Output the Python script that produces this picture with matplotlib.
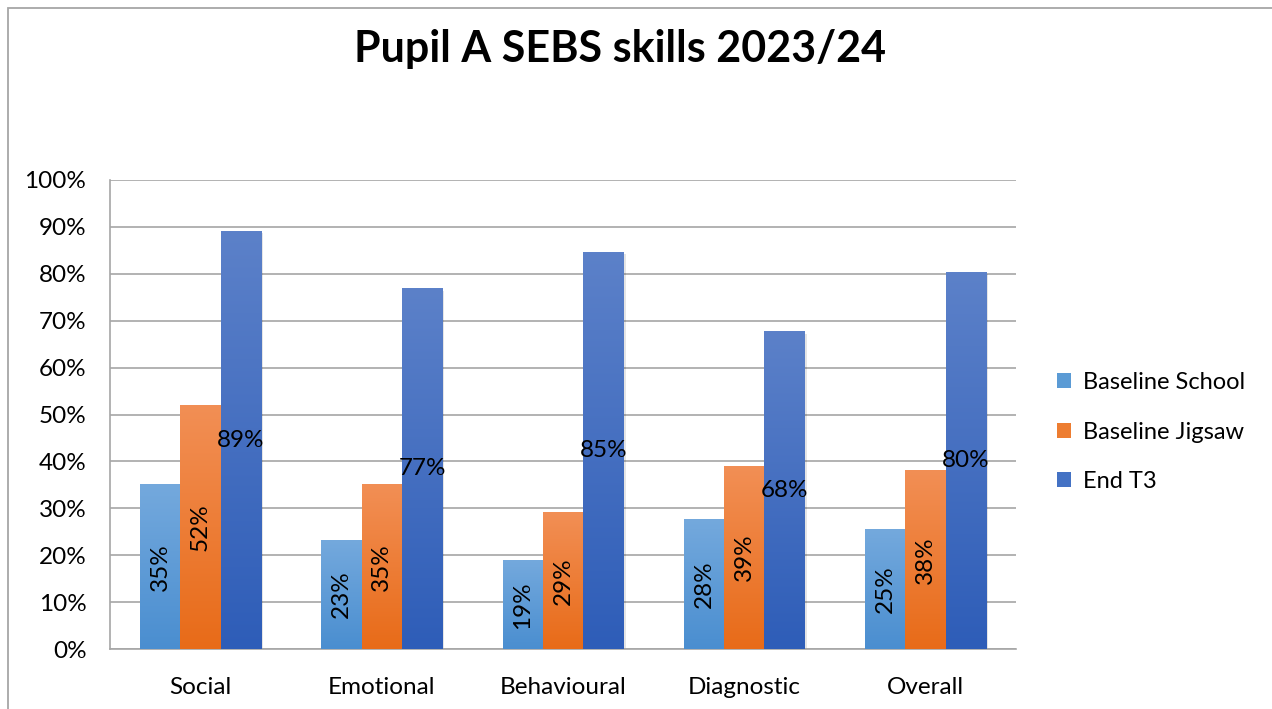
import numpy as np
import matplotlib
matplotlib.use("Agg")
import matplotlib.pyplot as plt
from matplotlib.colors import LinearSegmentedColormap
from matplotlib.patches import Rectangle

plt.rcParams['font.family'] = ['Lato', 'DejaVu Sans']

# data
categories = ['Social', 'Emotional', 'Behavioural', 'Diagnostic', 'Overall']
series_names = ['Baseline School', 'Baseline Jigsaw', 'End T3']
baseline_school = [0.35, 0.232, 0.188, 0.277, 0.254]
baseline_jigsaw = [0.52, 0.35, 0.29, 0.39, 0.38]
end_t3 = [0.891, 0.768, 0.846, 0.676, 0.803]
yticks = np.arange(0, 1.01, 0.1)

# (top colour, bottom colour) for the gradient fill of each series
grad_colors = [('#74a9dd', '#4a8ed0'),
               ('#f28f55', '#e86b18'),
               ('#5c81c9', '#2e5db8')]
legend_colors = ['#5b9bd5', '#ed7d31', '#4472c4']

fig = plt.figure(figsize=(12.72, 7.09), dpi=100)
ax = fig.add_axes([110/1272, 1-649/709, 906/1272, 469/709])

# outer chart frame (cut off at right and bottom like the screenshot)
fig.patches.append(Rectangle((8/1272, -0.1), 2, 1.1 - 8/709, transform=fig.transFigure,
                             fill=False, edgecolor='#a6a6a6', linewidth=1.3))

x = np.arange(len(categories))
w = 0.222
all_series = [baseline_school, baseline_jigsaw, end_t3]
grad = np.linspace(0, 1, 256).reshape(-1, 1)

for i, vals in enumerate(all_series):
    pos = x + (i - 1) * w
    bars = ax.bar(pos, vals, width=w, color='none', edgecolor='none', zorder=3,
                  label=series_names[i])
    cmap = LinearSegmentedColormap.from_list('g%d' % i, [grad_colors[i][1], grad_colors[i][0]])
    for b, v in zip(bars, vals):
        x0 = b.get_x()
        # soft shadow to the right
        ax.add_patch(Rectangle((x0 + 0.012, 0), w, v - 0.004, facecolor='#000000',
                               alpha=0.10, edgecolor='none', zorder=2))
        ax.imshow(grad, cmap=cmap, vmin=0, vmax=1, origin='lower',
                  extent=(x0, x0 + w, 0, v), aspect='auto', zorder=3, interpolation='bilinear')
    for p, v in zip(pos, vals):
        lab = '%d%%' % round(v * 100)
        ax.text(p, v / 2, lab, rotation=90 if i < 2 else 0, ha='center', va='center',
                fontsize=17.5, color='black', zorder=5)

ax.set_xlim(-0.5, len(categories) - 0.5)
ax.set_ylim(0, 1.0)
ax.set_yticks(yticks)
ax.set_yticklabels(['%d%%' % round(t * 100) for t in yticks])
ax.set_xticks(x)
ax.set_xticklabels(categories)
ax.tick_params(axis='both', length=0, labelsize=17.5, colors='black')
ax.tick_params(axis='y', pad=17)
ax.tick_params(axis='x', pad=20)
ax.grid(axis='y', color='#a6a6a6', linewidth=1.2, zorder=0)
ax.set_axisbelow(True)
for s in ['top', 'right']:
    ax.spines[s].set_visible(False)
ax.spines['left'].set_color('#a6a6a6')
ax.spines['left'].set_linewidth(1.2)
ax.spines['bottom'].set_color('#a6a6a6')
ax.spines['bottom'].set_linewidth(1.2)

handles = [Rectangle((0, 0), 1, 1, facecolor=c, edgecolor='none') for c in legend_colors]
fig.legend(handles, series_names, loc='center left', bbox_to_anchor=(1036/1272, 1-432/709),
           frameon=False, fontsize=17, handlelength=0.6, handleheight=0.6,
           handletextpad=0.5, labelspacing=1.2)

fig.text(620/1272, 1-49/709, 'Pupil A SEBS skills 2023/24', ha='center', va='center',
         fontsize=31, fontweight='bold')

fig.savefig('out.png', dpi=100)
